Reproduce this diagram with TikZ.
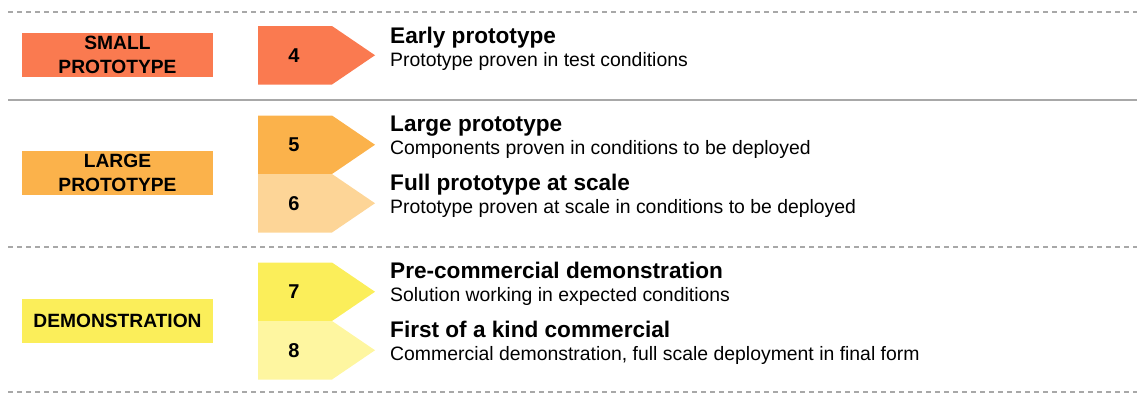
\documentclass[tikz,border=0pt]{standalone}
\usepackage{fontspec}
\setmainfont{Liberation Sans}
\usepackage{tikz}
\usetikzlibrary{positioning}

\definecolor{trlfour}{HTML}{FA7A50}
\definecolor{trlfive}{HTML}{FBB24B}
\definecolor{trlsix}{HTML}{FDD597}
\definecolor{trlseven}{HTML}{FBEE5A}
\definecolor{trleight}{HTML}{FEF6A0}
\definecolor{rulegray}{HTML}{A8A8A8}

% pentagon arrow: name, top, colour, number
\newcommand{\LevelArrow}[4]{%
	\fill[#3] (258,#2) -- (332,#2) -- (375,#2+29.25) -- (332,#2+58.5) -- (258,#2+58.5) -- cycle;
	\node[numtext] (#1) at (294,#2+29.25) {#4};
}

\begin{document}
\begin{tikzpicture}[x=1pt,y=-1pt]
		\tikzset{
			sepdash/.style = {rulegray, line width=1.3pt, dash pattern=on 5pt off 4pt},
			sepsolid/.style = {rulegray, line width=2pt},
			phasebox/.style = {minimum width=191pt, minimum height=44pt, inner sep=0pt, align=center,
				font=\fontsize{19.2}{23.5}\selectfont\bfseries},
			numtext/.style = {inner sep=0pt, font=\fontsize{20}{22}\selectfont\bfseries},
			titletext/.style = {anchor=base west, inner sep=0pt, font=\fontsize{22.6}{26}\selectfont\bfseries},
			subtext/.style = {anchor=base west, inner sep=0pt, font=\fontsize{19.4}{22}\selectfont}
		}
		\useasboundingbox (0,0) rectangle (1137,394);
		
		% separators
		\draw[sepdash] (8,12) -- (1137,12);
		\draw[sepsolid] (8,100) -- (1137,100);
		\draw[sepdash] (8,247) -- (1137,247);
		\draw[sepdash] (8,392) -- (1137,392);
		
		% phases
		\node[phasebox, fill=trlfour] (small) at (117.5,55) {SMALL\\PROTOTYPE};
		\node[phasebox, fill=trlfive] (large) at (117.5,173) {LARGE\\PROTOTYPE};
		\node[phasebox, fill=trlseven] (demo) at (117.5,321) {DEMONSTRATION};
		
		% levels
		\LevelArrow{L4}{26}{trlfour}{4}
		\LevelArrow{L5}{115.5}{trlfive}{5}
		\LevelArrow{L6}{174}{trlsix}{6}
		\LevelArrow{L7}{262.5}{trlseven}{7}
		\LevelArrow{L8}{321}{trleight}{8}
		
		%%%%%%%%%%%%%%%%%%%%%%%%%%%%%%
		
		\node[titletext] (T4) at (390,43) {Early prototype};
		\node[subtext] (S4) at ([yshift=-23pt]T4.base west) {Prototype proven in test conditions};
		
		\node[titletext] (T5) at (390,131.5) {Large prototype};
		\node[subtext] (S5) at ([yshift=-23pt]T5.base west) {Components proven in conditions to be deployed};
		
		\node[titletext] (T6) at (390,190) {Full prototype at scale};
		\node[subtext] (S6) at ([yshift=-23pt]T6.base west) {Prototype proven at scale in conditions to be deployed};
		
		\node[titletext] (T7) at (390,278.5) {Pre-commercial demonstration};
		\node[subtext] (S7) at ([yshift=-23pt]T7.base west) {Solution working in expected conditions};
		
		\node[titletext] (T8) at (390,337) {First of a kind commercial};
		\node[subtext] (S8) at ([yshift=-23pt]T8.base west) {Commercial demonstration, full scale deployment in final form};
		
\end{tikzpicture}
\end{document}
